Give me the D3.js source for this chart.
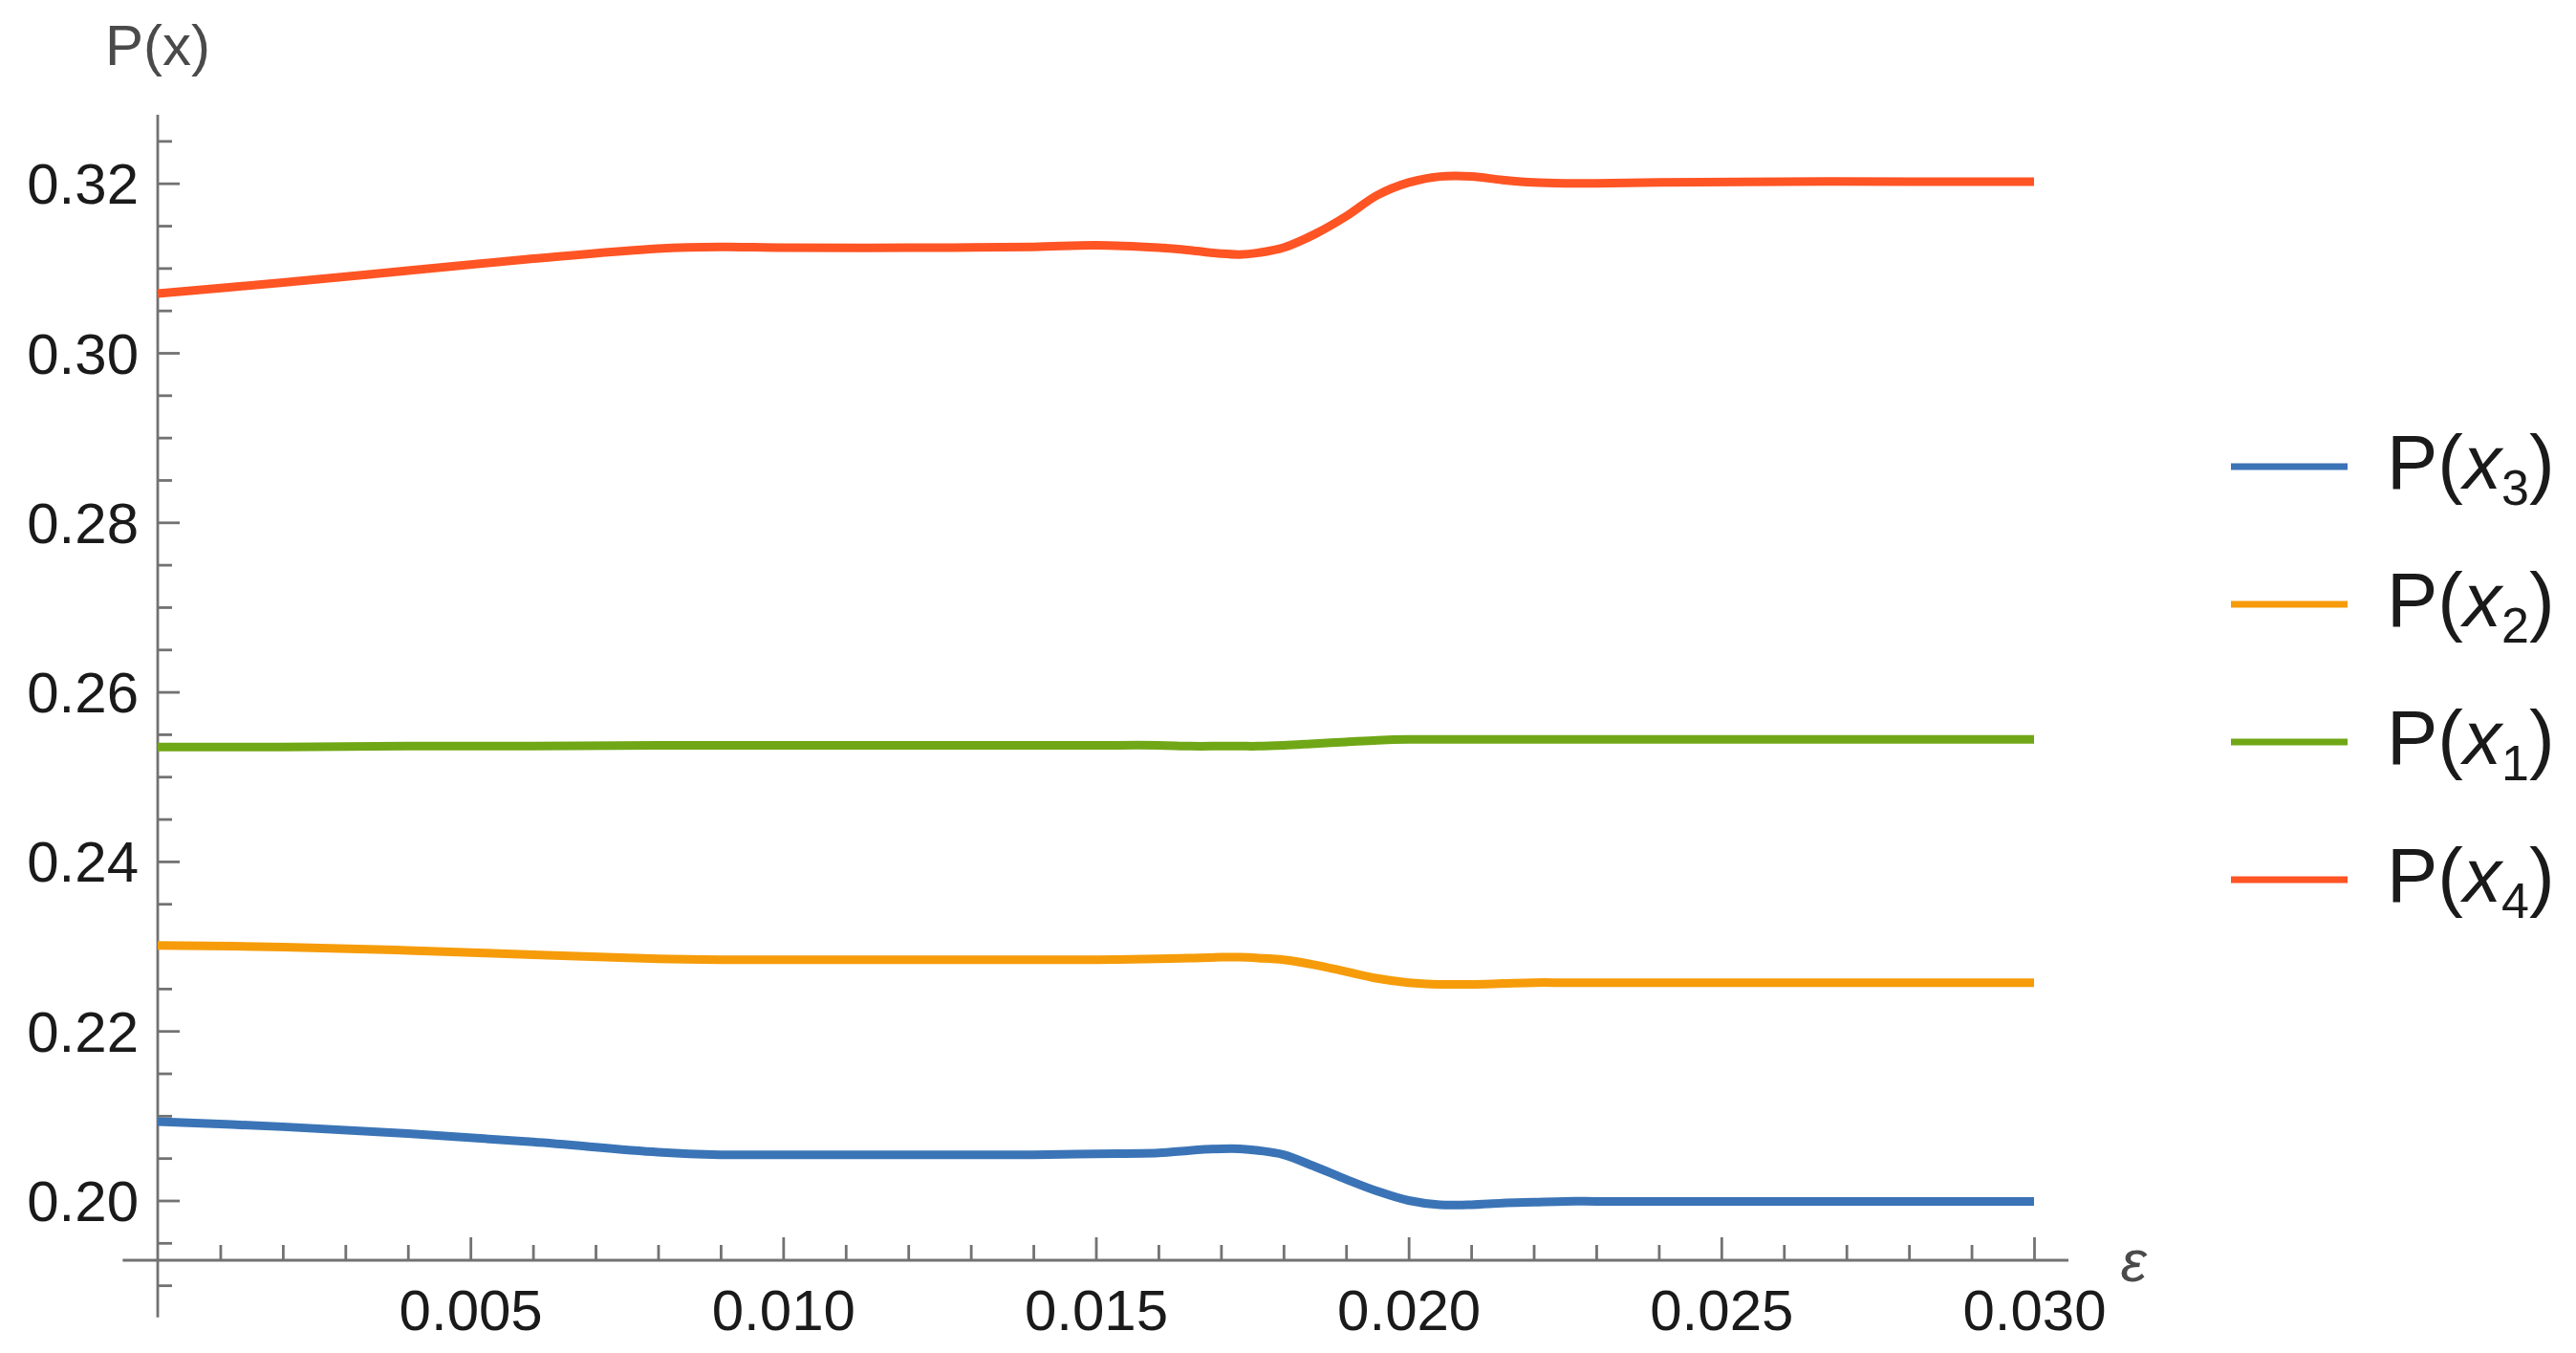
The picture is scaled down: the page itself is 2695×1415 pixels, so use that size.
<!DOCTYPE html>
<html>
<head>
<meta charset="utf-8">
<script src="https://cdn.jsdelivr.net/npm/d3@7"></script>
<style>
  html, body { margin: 0; padding: 0; background: #fff; }
  svg { display: block; }
  text { font-family: "Liberation Sans", Arial, sans-serif; }
</style>
</head>
<body>
<svg id="chart" width="2695" height="1415"></svg>
<script>
// ---------- data ----------
const eps = [0, 0.002, 0.004, 0.006, 0.008, 0.009, 0.010, 0.012, 0.014, 0.015, 0.016, 0.0165, 0.017, 0.0173, 0.0176, 0.018, 0.0185, 0.019, 0.0195, 0.020, 0.0205, 0.021, 0.0215, 0.022, 0.0225, 0.023, 0.024, 0.026, 0.028, 0.030];

const px4 = [0.3070, 0.3083, 0.3097, 0.3111, 0.3123, 0.3125, 0.3124, 0.3124, 0.3125, 0.3127, 0.3124, 0.3121, 0.3117, 0.3116, 0.3118, 0.3124, 0.3140, 0.3161, 0.3186, 0.3201, 0.3208, 0.3208, 0.3204, 0.3201, 0.3200, 0.3200, 0.3201, 0.3202, 0.3202, 0.3202];
const px1 = [0.2535, 0.2535, 0.2536, 0.2536, 0.2537, 0.2537, 0.2537, 0.2537, 0.2537, 0.2537, 0.2537, 0.2536, 0.2536, 0.2536, 0.2536, 0.2537, 0.2539, 0.2541, 0.2543, 0.2544, 0.2544, 0.2544, 0.2544, 0.2544, 0.2544, 0.2544, 0.2544, 0.2544, 0.2544, 0.2544];
const px2 = [0.2301, 0.2299, 0.2295, 0.2290, 0.2285, 0.2284, 0.2284, 0.2284, 0.2284, 0.2284, 0.2285, 0.2286, 0.2287, 0.2287, 0.2286, 0.2284, 0.2278, 0.2270, 0.2262, 0.2257, 0.2255, 0.2255, 0.2256, 0.2257, 0.2257, 0.2257, 0.2257, 0.2257, 0.2257, 0.2257];
const px3 = [0.2093, 0.2087, 0.2079, 0.2069, 0.2057, 0.2054, 0.2054, 0.2054, 0.2054, 0.2055, 0.2056, 0.2059, 0.2061, 0.2061, 0.2059, 0.2054, 0.2040, 0.2025, 0.2011, 0.2000, 0.1995, 0.1995, 0.1997, 0.1998, 0.1999, 0.1999, 0.1999, 0.1999, 0.1999, 0.1999];

const seriesNames = ["P(x3)", "P(x2)", "P(x1)", "P(x4)"]; // legend order
const seriesSubs = ["3", "2", "1", "4"];
const seriesValues = [px3, px2, px1, px4];
const seriesColors = ["#3b74b6", "#f69c0a", "#70a716", "#ff5424"];

const xMajorTicks = [0.005, 0.010, 0.015, 0.020, 0.025, 0.030];
const xTickLabels = ["0.005", "0.010", "0.015", "0.020", "0.025", "0.030"];
const yMajorTicks = [0.20, 0.22, 0.24, 0.26, 0.28, 0.30, 0.32];
const yTickLabels = ["0.20", "0.22", "0.24", "0.26", "0.28", "0.30", "0.32"];

// ---------- layout ----------
const svg = d3.select("#chart");
svg.append("rect").attr("width", 2695).attr("height", 1415).attr("fill", "#fff");

const x = d3.scaleLinear().domain([0, 0.03]).range([165, 2128]);
const y = d3.scaleLinear().domain([0.20, 0.32]).range([1255.5, 191.7]);

const xAxisAt = 0.19295;      // y value where horizontal axis sits
const xAxisExtent = [-0.00056, 0.03055];
const yAxisExtent = [0.1862, 0.3281];

const axisColor = "#727272";
const labelColor = "#1a1a1a";
const fontSize = 60;

// minor ticks
const xMinor = d3.range(1, 31).map(i => i / 1000).filter(v => !xMajorTicks.some(m => Math.abs(m - v) < 1e-9));
const yMinor = d3.range(38, 66).map(i => i * 0.005).filter(v => !yMajorTicks.some(m => Math.abs(m - v) < 1e-9));

// X axis (ticks point upward)
const gx = svg.append("g").attr("transform", `translate(0,${y(xAxisAt)})`);
gx.call(d3.axisBottom(x).tickValues(xMinor).tickSize(-16).tickFormat(""));
gx.call(g => g.selectAll(".domain").remove());
const gx2 = svg.append("g").attr("transform", `translate(0,${y(xAxisAt)})`);
gx2.call(d3.axisBottom(x).tickValues(xMajorTicks).tickSize(-24).tickPadding(30)
  .tickFormat((d, i) => xTickLabels[i]));
gx2.call(g => g.selectAll(".domain").remove());
svg.append("line")
  .attr("x1", x(xAxisExtent[0])).attr("x2", x(xAxisExtent[1]))
  .attr("y1", y(xAxisAt)).attr("y2", y(xAxisAt));

// Y axis (ticks point right)
const gy = svg.append("g").attr("transform", `translate(${x(0)},0)`);
gy.call(d3.axisLeft(y).tickValues(yMinor).tickSize(-15).tickFormat(""));
gy.call(g => g.selectAll(".domain").remove());
const gy2 = svg.append("g").attr("transform", `translate(${x(0)},0)`);
gy2.call(d3.axisLeft(y).tickValues(yMajorTicks).tickSize(-23).tickPadding(20)
  .tickFormat((d, i) => yTickLabels[i]));
gy2.call(g => g.selectAll(".domain").remove());
svg.append("line")
  .attr("x1", x(0)).attr("x2", x(0))
  .attr("y1", y(yAxisExtent[0])).attr("y2", y(yAxisExtent[1]));

svg.selectAll("line").attr("stroke", axisColor).attr("stroke-width", 2.8);
svg.selectAll(".tick line").attr("stroke", axisColor).attr("stroke-width", 2.8);
svg.selectAll(".tick text")
  .attr("fill", labelColor)
  .style("font-family", "'Liberation Sans', Arial, sans-serif")
  .style("font-size", fontSize + "px");
gy2.selectAll(".tick text").attr("dy", "0.35em");

// axis labels
svg.append("text")
  .attr("x", x(0)).attr("y", 68)
  .attr("text-anchor", "middle")
  .attr("fill", "#4a4a4a")
  .style("font-size", "60px")
  .text("P(x)");

svg.append("text")
  .attr("x", 2232).attr("y", 1340)
  .attr("text-anchor", "middle")
  .attr("fill", "#4a4a4a")
  .style("font-size", "62px")
  .style("font-style", "italic")
  .text("ε");

// ---------- lines ----------
const line = d3.line()
  .x((d, i) => x(eps[i]))
  .y(d => y(d))
  .curve(d3.curveCatmullRom.alpha(0.5));

// draw in order so red is on top as in reference
const drawOrder = [2, 1, 0, 3];
drawOrder.forEach(k => {
  svg.append("path")
    .datum(seriesValues[k])
    .attr("d", line)
    .attr("fill", "none")
    .attr("stroke", seriesColors[k])
    .attr("stroke-width", 9)
    .attr("stroke-linejoin", "round")
    .attr("stroke-linecap", "butt");
});

// ---------- legend ----------
const legendRowY = [488, 632, 776, 920];
const legend = svg.append("g");
seriesNames.forEach((name, i) => {
  const cy = legendRowY[i];
  legend.append("line")
    .attr("x1", 2334).attr("x2", 2456)
    .attr("y1", cy).attr("y2", cy)
    .attr("stroke", seriesColors[i])
    .attr("stroke-width", 7);
  const t = legend.append("text")
    .attr("x", 2497).attr("y", cy + 23)
    .attr("fill", labelColor)
    .style("font-size", "80px");
  t.append("tspan").text("P(");
  t.append("tspan").style("font-style", "italic").text("x");
  t.append("tspan").attr("dy", 17).style("font-size", "52px").text(seriesSubs[i]);
  t.append("tspan").attr("dy", -17).text(")");
});
</script>
</body>
</html>
